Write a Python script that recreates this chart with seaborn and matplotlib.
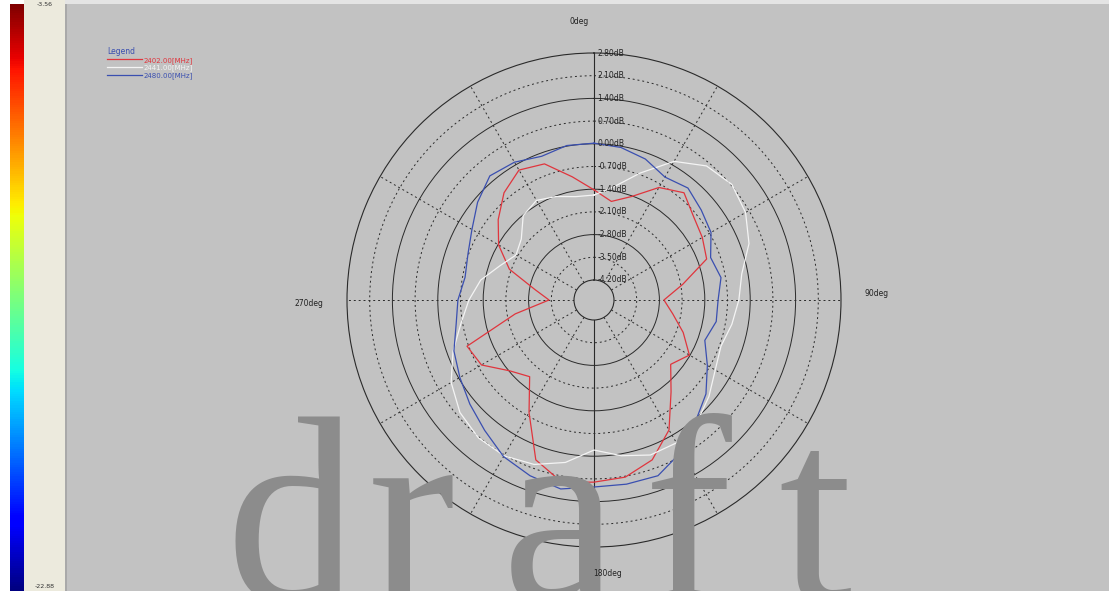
import numpy as np
import pandas as pd
import seaborn as sns
import matplotlib.pyplot as plt
from matplotlib.patches import Rectangle
from matplotlib.lines import Line2D
from matplotlib.transforms import offset_copy

# angles (deg, clockwise from top) and gain in dB for each frequency
angles = list(range(0, 360, 10))
gain_2402 = [-1.42, -1.73, -1.42, -0.81, -0.50, -0.81, -0.96, -1.12, -2.04, -2.66,
             -2.35, -1.89, -1.42, -1.73, -1.12, -0.19, 0.43, 0.73, 0.80, 0.89,
             0.43, -0.81, -1.73, -1.42, -0.81, -0.65, -2.35, -3.43, -2.97, -2.04,
             -1.42, -0.96, -0.50, -0.19, -0.35, -0.96]
gain_2441 = [-1.58, -1.27, -0.65, 0.12, 0.58, 0.73, 0.58, 0.27, -0.19, -0.35,
             -0.50, -0.65, -0.50, -0.19, 0.12, 0.27, 0.27, 0.06, -0.19, 0.27,
             0.58, 0.73, 0.73, 0.58, 0.27, -0.19, -0.65, -0.96, -1.27, -1.73,
             -2.04, -1.89, -1.42, -1.27, -1.42, -1.58]
gain_2480 = [0.02, -0.04, -0.19, -0.44, -0.31, -0.50, -0.65, -0.99, -0.84, -0.99,
             -0.99, -1.18, -0.78, -0.31, 0.06, 0.58, 0.95, 0.95, 0.95, 1.10,
             0.95, 0.76, 0.43, 0.18, -0.04, -0.22, -0.50, -0.62, -0.78, -0.68,
             -0.47, -0.13, 0.18, 0.09, -0.10, 0.02]
freq_labels = ["2402.00[MHz]", "2441.00[MHz]", "2480.00[MHz]"]
line_colors = ["#e0353d", "#f4f4f4", "#3a4fb0"]

ring_levels = [2.80, 2.10, 1.40, 0.70, 0.00, -0.70, -1.40, -2.10, -2.80, -3.50, -4.20]
ring_labels = ["2.80dB", "2.10dB", "1.40dB", "0.70dB", "0.00dB", "-0.70dB",
               "-1.40dB", "-2.10dB", "-2.80dB", "-3.50dB", "-4.20dB"]
angle_labels = ["0deg", "90deg", "180deg", "270deg"]
cbar_top, cbar_bottom = "-3.56", "-22.88"
watermark = "draft"

W, H = 1109, 591
bg = "#c2c2c2"
fig = plt.figure(figsize=(W / 100, H / 100), dpi=100, facecolor=bg)

# left side panel and colour scale
def fig_rect(x, y, w, h, color):
    fig.patches.append(Rectangle((x / W, 1 - (y + h) / H), w / W, h / H,
                                 transform=fig.transFigure, facecolor=color,
                                 edgecolor="none", zorder=0))

fig_rect(0, 0, W, 4, "#e4e4e4")
fig_rect(0, 0, 24, H, "white")
fig_rect(24, 0, 41, H, "#eceadd")
fig_rect(65, 4, 2, H, "#a9a9a9")

cax = fig.add_axes([10 / W, 0, 14 / W, (H - 4) / H])
cax.set_zorder(2)
grad = pd.DataFrame(np.linspace(1, 0, 256)[:, None])
sns.heatmap(grad, ax=cax, cmap="jet", cbar=False, xticklabels=False, yticklabels=False)
cax.set_xlabel("")
cax.set_ylabel("")
fig.text(45 / W, 1 - 4 / H, cbar_top, fontsize=4.5, color="#333333", ha="center", va="center")
fig.text(45 / W, 1 - 587 / H, cbar_bottom, fontsize=4.5, color="#333333", ha="center", va="center")

# polar plot
cx, cy, R = 594, 300, 247
ax = fig.add_axes([(cx - R) / W, (H - cy - R) / H, 2 * R / W, 2 * R / H], projection="polar")
ax.set_facecolor("none")
ax.set_theta_zero_location("N")
ax.set_theta_direction(-1)
rmin, rmax = ring_levels[-1], ring_levels[0]
ax.set_ylim(rmin, rmax)
ax.set_rorigin(rmin - 20 / (R - 20) * (rmax - rmin))

ax.set_xticks(np.deg2rad(np.arange(0, 360, 30)))
ax.set_xticklabels([])
ax.set_yticks(ring_levels[1:-1])
ax.set_yticklabels([])
ax.tick_params(length=0)
ax.grid(True, color="#2a2a2a", linewidth=0.7)
for i, gl in enumerate(ax.yaxis.get_gridlines()):
    gl.set_linestyle("-" if i % 2 == 1 else (0, (2, 3)))
for i, gl in enumerate(ax.xaxis.get_gridlines()):
    gl.set_linestyle("-" if i in (0, 6) else (0, (2, 3)))
    gl.set_linewidth(0.8 if i in (0, 6) else 0.7)
for sp in ax.spines.values():
    sp.set_color("#2a2a2a")
    sp.set_linewidth(0.8)

th = np.deg2rad(angles + [360])
for g, c in zip([gain_2402, gain_2441, gain_2480], line_colors):
    sns.lineplot(x=th, y=g + g[:1], ax=ax, sort=False, color=c, linewidth=0.9)

lab_tr = offset_copy(ax.transData, fig=fig, x=2.5, y=0, units="points")
for lvl, txt in zip(ring_levels, ring_labels):
    ax.text(0, lvl, txt, transform=lab_tr, fontsize=5.5, color="#222222",
            ha="left", va="center", clip_on=False)

# legend
handles = [Line2D([], [], color=c, lw=0.9) for c in line_colors]
leg = fig.legend(handles, freq_labels, title="Legend", loc="upper left",
                 bbox_to_anchor=(104 / W, 1 - 44 / H), frameon=False,
                 fontsize=5, title_fontsize=5.5, handlelength=5, handletextpad=0.3,
                 labelspacing=0.15, borderaxespad=0)
leg._legend_box.align = "left"
leg.get_title().set_color("#3a4fb0")
for t, c in zip(leg.get_texts(), line_colors):
    t.set_color(c)

# watermark, typewriter-like spacing
for ch, px in zip(watermark, [291, 412, 560, 688, 815]):
    fig.text(px / W, 1 - 600 / H, ch, fontsize=190, family="Liberation Serif",
             color="#8c8c8c", ha="center", va="baseline", zorder=5)

# angle labels (figure level so they sit above the watermark)
for txt, (px, py) in zip(angle_labels, [(579, 22), (877, 293), (608, 574), (309, 303)]):
    fig.text(px / W, 1 - py / H, txt, fontsize=5.5, color="#222222",
             ha="center", va="center", zorder=6)

fig.savefig("out.png", dpi=100, facecolor=bg)
